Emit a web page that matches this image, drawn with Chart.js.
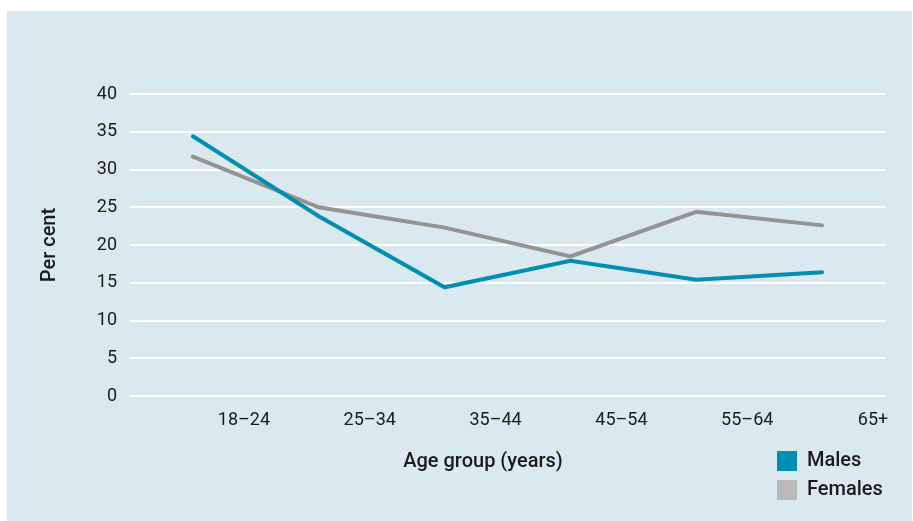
<!DOCTYPE html>
<html>
<head>
<meta charset="utf-8">
<script src="https://cdn.jsdelivr.net/npm/chart.js@4.4.0/dist/chart.umd.min.js"></script>
<style>
  html, body { margin: 0; padding: 0; background: #fff; }
  canvas { display: block; }
</style>
</head>
<body>
<canvas id="ageChart" width="913" height="521"></canvas>
<script>
// Datos
const ageGroups = ['18–24', '25–34', '35–44', '45–54', '55–64', '65+'];
const males = [34.4, 23.8, 14.4, 17.9, 15.4, 16.4];
const females = [31.7, 25.0, 22.3, 18.5, 24.4, 22.6];
const yMin = 0;
const yMax = 40;
const yStep = 5;

const FONT = 'Roboto, "Liberation Sans", sans-serif';
const TEXT = '#1b1b1b';
const legendColors = ['#008fb3', '#b9b9b9'];

// panel de fondo
const panelPlugin = {
    id: 'panel',
    beforeDraw(chart) {
        const ctx = chart.ctx;
        ctx.save();
        ctx.fillStyle = '#dae8ef';
        ctx.fillRect(7, 11, chart.width - 8, chart.height - 11);
        ctx.restore();
    }
};

// título del eje x y leyenda vertical
const extrasPlugin = {
    id: 'extras',
    afterDraw(chart) {
        const ctx = chart.ctx;
        ctx.save();
        ctx.fillStyle = TEXT;
        ctx.font = '500 20px ' + FONT;
        ctx.textBaseline = 'middle';
        ctx.textAlign = 'center';
        ctx.fillText('Age group (years)', 483, 462);

        ctx.textAlign = 'left';
        chart.data.datasets.forEach((ds, i) => {
            const y = 451 + i * 29;
            ctx.fillStyle = legendColors[i];
            ctx.fillRect(777, y, 20, 20);
            ctx.fillStyle = TEXT;
            ctx.fillText(ds.label, 807, y + 10);
        });
        ctx.restore();
    }
};

const ctx = document.getElementById('ageChart').getContext('2d');

new Chart(ctx, {
    type: 'line',
    data: {
        labels: ageGroups,
        datasets: [
            {
                label: 'Males',
                data: males,
                borderColor: '#008fb3',
                borderWidth: 4,
                pointRadius: 0,
                borderCapStyle: 'round',
                borderJoinStyle: 'miter',
                tension: 0
            },
            {
                label: 'Females',
                data: females,
                borderColor: '#939393',
                borderWidth: 4,
                pointRadius: 0,
                borderCapStyle: 'round',
                borderJoinStyle: 'miter',
                tension: 0
            }
        ]
    },
    options: {
        responsive: false,
        devicePixelRatio: 1,
        animation: false,
        layout: {
            padding: { top: 94, right: 28, left: 0, bottom: 0 }
        },
        plugins: {
            legend: { display: false },
            tooltip: { enabled: false }
        },
        scales: {
            x: {
                type: 'category',
                offset: true,
                grid: { display: false },
                border: { display: false },
                ticks: {
                    color: TEXT,
                    font: { family: FONT, size: 18 },
                    labelOffset: 51,
                    padding: 6,
                    maxRotation: 0,
                    autoSkip: false
                },
                afterFit(scale) { scale.height = 125; }
            },
            y: {
                min: yMin,
                max: yMax,
                grid: {
                    color: '#ffffff',
                    lineWidth: 2,
                    drawTicks: false
                },
                border: { display: false },
                ticks: {
                    stepSize: yStep,
                    color: TEXT,
                    font: { family: FONT, size: 18 },
                    padding: 13
                },
                title: {
                    display: true,
                    text: 'Per cent',
                    color: TEXT,
                    font: { family: FONT, size: 20, weight: '500' },
                    padding: { top: 38, bottom: 0 }
                },
                afterFit(scale) { scale.width = 130; }
            }
        }
    },
    plugins: [panelPlugin, extrasPlugin]
});
</script>
</body>
</html>
